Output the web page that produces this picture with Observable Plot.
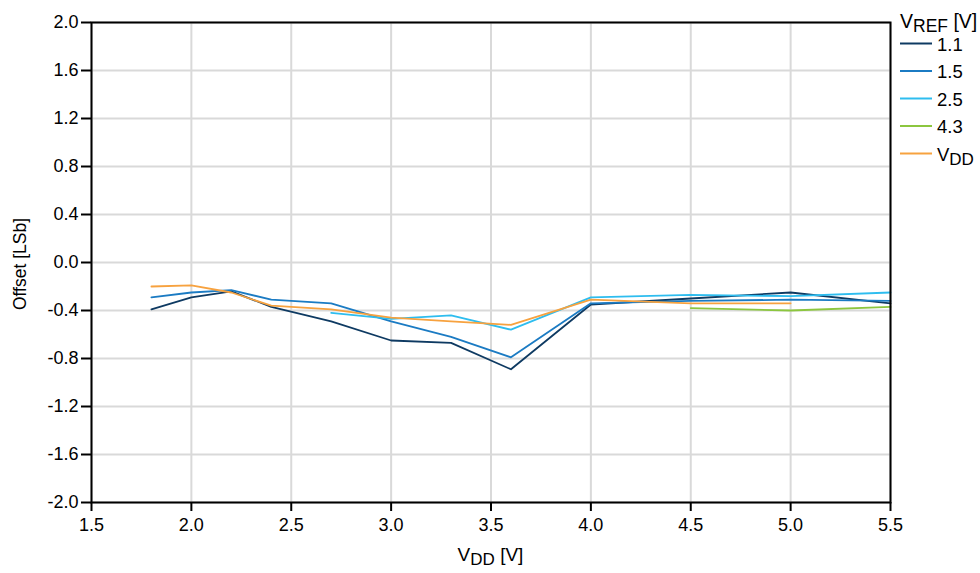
<!DOCTYPE html>
<html><head><meta charset="utf-8">
<script src="https://cdn.jsdelivr.net/npm/d3@7"></script>
<script src="https://cdn.jsdelivr.net/npm/@observablehq/plot@0.6"></script>
<style>
body{margin:0;background:#fff;font-family:"Liberation Sans",Arial,sans-serif;}
svg{overflow:visible;}
</style></head><body><div id="chart"></div>
<script>
// VDD supply voltage (x)
const vdd = [1.8, 2.0, 2.2, 2.4, 2.7, 3.0, 3.3, 3.6, 4.0, 4.5, 5.0, 5.5];
// Offset [LSb] per VREF setting
const offset11 = [-0.39, -0.29, -0.24, -0.37, -0.49, -0.65, -0.67, -0.89, -0.35, -0.30, -0.25, -0.34];
const offset15 = [-0.29, -0.25, -0.23, -0.31, -0.34, -0.49, -0.62, -0.79, -0.34, -0.32, -0.31, -0.32];
const offset25 = [null, null, null, null, -0.42, -0.47, -0.44, -0.56, -0.29, -0.27, -0.28, -0.25];
const offset43 = [null, null, null, null, null, null, null, null, null, -0.38, -0.40, -0.37];
const offsetVDD = [-0.20, -0.19, -0.25, -0.36, -0.39, -0.46, -0.49, -0.52, -0.31, -0.34, -0.34, null];

const seriesNames = ["1.1", "1.5", "2.5", "4.3", "VDD"];
const seriesValues = [offset11, offset15, offset25, offset43, offsetVDD];
const colors = ["#0e3a62", "#1b7bc3", "#2ebdef", "#8cc63f", "#f7a23f"];

const xTicks = [1.5, 2.0, 2.5, 3.0, 3.5, 4.0, 4.5, 5.0, 5.5];
const yTicks = [-2.0, -1.6, -1.2, -0.8, -0.4, 0.0, 0.4, 0.8, 1.2, 1.6, 2.0];

const rows = [];
seriesValues.forEach((vals, i) => vals.forEach((v, j) => {
  if (v != null) rows.push({series: seriesNames[i], vdd: vdd[j], offset: v});
}));

const fmt = d => d.toFixed(1);
const ff = '"Liberation Sans", Arial, sans-serif';

const plot = Plot.plot({
  width: 980,
  height: 573,
  marginLeft: 91,
  marginRight: 90,
  marginTop: 22,
  marginBottom: 71,
  style: {fontFamily: ff, fontSize: "18px", color: "#000", background: "#fff"},
  x: {domain: [1.5, 5.5]},
  y: {domain: [-2, 2]},
  color: {domain: seriesNames, range: colors},
  marks: [
    Plot.gridX(xTicks, {stroke: "#d9d9d9", strokeOpacity: 1, strokeWidth: 2}),
    Plot.gridY(yTicks, {stroke: "#d9d9d9", strokeOpacity: 1, strokeWidth: 2}),
    Plot.line(rows, {x: "vdd", y: "offset", z: "series", stroke: "series", strokeWidth: 1.8}),
    Plot.frame({stroke: "#000", strokeWidth: 2}),
    Plot.axisX(xTicks, {tickFormat: fmt, tickSize: 9, tickPadding: 7, fontSize: 18, label: null, strokeWidth: 2}),
    Plot.axisY(yTicks, {tickFormat: fmt, tickSize: 10, tickPadding: 3, fontSize: 18, label: null, strokeWidth: 2})
  ]
});

document.getElementById("chart").appendChild(plot);

const svg = d3.select(plot);
const xs = plot.scale("x").range;
const ys = plot.scale("y").range;
const cx = (xs[0] + xs[1]) / 2;
const cy = (ys[0] + ys[1]) / 2;

// x axis label with subscript
const xl = svg.append("text")
  .attr("x", cx).attr("y", 561)
  .attr("text-anchor", "middle")
  .attr("font-family", ff).attr("font-size", 19).attr("fill", "#000");
xl.append("tspan").text("V");
xl.append("tspan").attr("dy", 4).attr("font-size", 17).text("DD");
xl.append("tspan").attr("dy", -4).text(" [V]");

// y axis label
svg.append("text")
  .attr("transform", `translate(26,${cy + 2}) rotate(-90)`)
  .attr("text-anchor", "middle")
  .attr("font-family", ff).attr("font-size", 17.5).attr("fill", "#000")
  .text("Offset [LSb]");

// legend
const lx = 900;
const lt = svg.append("text")
  .attr("x", lx).attr("y", 28)
  .attr("text-anchor", "start")
  .attr("font-family", ff).attr("font-size", 19.5).attr("fill", "#000");
lt.append("tspan").text("V");
lt.append("tspan").attr("dy", 4).attr("font-size", 17.5).text("REF");
lt.append("tspan").attr("dy", -4).text(" [V]");

seriesNames.forEach((name, i) => {
  const y = 43.5 + i * 27.5;
  svg.append("line")
    .attr("x1", lx).attr("x2", lx + 32).attr("y1", y).attr("y2", y)
    .attr("stroke", colors[i]).attr("stroke-width", 2);
  const t = svg.append("text")
    .attr("x", lx + 37).attr("y", y + 7)
    .attr("text-anchor", "start")
    .attr("font-family", ff).attr("font-size", 18.5).attr("fill", "#000");
  if (name === "VDD") {
    t.append("tspan").text("V");
    t.append("tspan").attr("dy", 4).attr("font-size", 17).text("DD");
  } else {
    t.text(name);
  }
});
</script>
</body></html>
